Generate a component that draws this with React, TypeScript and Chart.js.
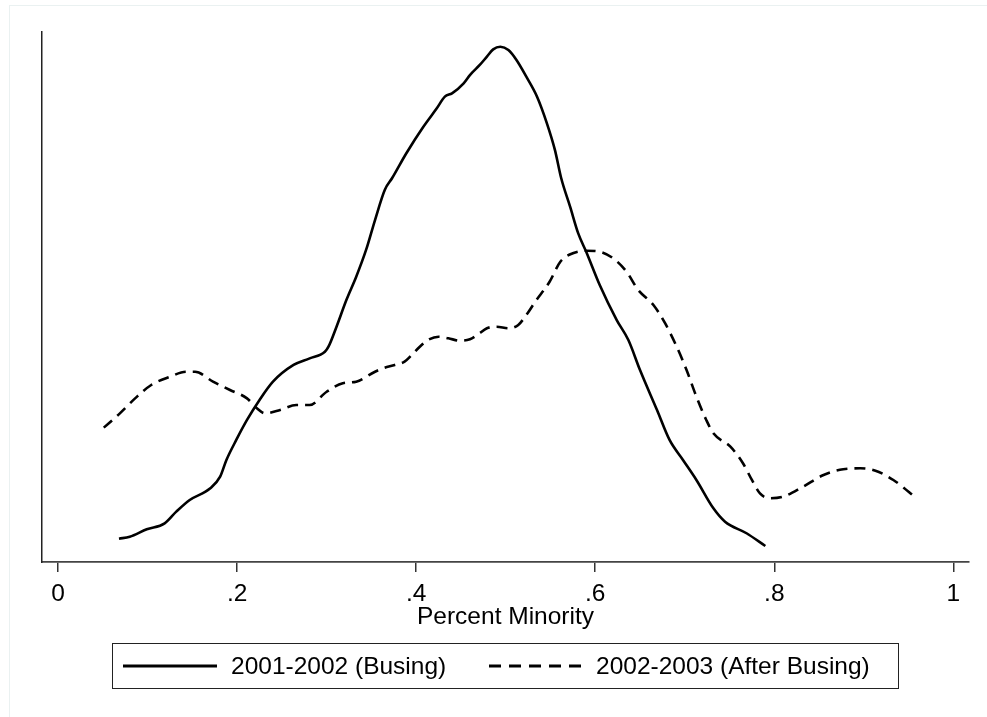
import React, { useEffect, useRef } from "react";
import { Chart, registerables } from "chart.js";

Chart.register(...registerables);

// Kernel density, 2001-2002 (Busing)
const busingX = [
  0.068, 0.080, 0.099, 0.119, 0.132, 0.147, 0.170, 0.181, 0.188, 0.199,
  0.211, 0.225, 0.240, 0.263, 0.281, 0.298, 0.302, 0.311, 0.322, 0.333,
  0.344, 0.354, 0.365, 0.373, 0.389, 0.408, 0.423, 0.432, 0.440, 0.453,
  0.460, 0.471, 0.479, 0.486, 0.494, 0.503, 0.512, 0.523, 0.535, 0.546,
  0.555, 0.562, 0.572, 0.581, 0.590, 0.605, 0.624, 0.637, 0.650, 0.669,
  0.683, 0.698, 0.713, 0.732, 0.745, 0.769, 0.790,
];
const busingY = [
  0.176, 0.191, 0.247, 0.292, 0.380, 0.468, 0.556, 0.644, 0.770, 0.921,
  1.072, 1.223, 1.361, 1.487, 1.537, 1.587, 1.625, 1.776, 1.977, 2.153,
  2.355, 2.581, 2.810, 2.896, 3.085, 3.285, 3.424, 3.512, 3.537, 3.613,
  3.675, 3.751, 3.814, 3.869, 3.889, 3.864, 3.789, 3.663, 3.512, 3.311,
  3.109, 2.896, 2.680, 2.480, 2.340, 2.091, 1.826, 1.675, 1.449, 1.147,
  0.921, 0.770, 0.619, 0.405, 0.304, 0.217, 0.121,
];

// Kernel density, 2002-2003 (After Busing)
const afterX = [
  0.051, 0.069, 0.086, 0.104, 0.125, 0.143, 0.153, 0.173, 0.192, 0.211,
  0.222, 0.231, 0.248, 0.266, 0.281, 0.300, 0.318, 0.333, 0.354, 0.363,
  0.376, 0.387, 0.395, 0.404, 0.413, 0.425, 0.436, 0.449, 0.460, 0.469,
  0.479, 0.490, 0.503, 0.514, 0.523, 0.533, 0.549, 0.561, 0.575, 0.590,
  0.605, 0.620, 0.635, 0.648, 0.665, 0.678, 0.691, 0.702, 0.713, 0.724,
  0.732, 0.751, 0.765, 0.775, 0.784, 0.795, 0.810, 0.832, 0.855, 0.877,
  0.896, 0.913, 0.933, 0.959,
];
const afterY = [
  1.014, 1.122, 1.235, 1.336, 1.398, 1.436, 1.436, 1.361, 1.298, 1.235,
  1.160, 1.122, 1.147, 1.185, 1.185, 1.285, 1.349, 1.361, 1.436, 1.462,
  1.487, 1.512, 1.562, 1.625, 1.675, 1.700, 1.688, 1.670, 1.681, 1.718,
  1.764, 1.776, 1.764, 1.789, 1.864, 1.965, 2.115, 2.266, 2.330, 2.349,
  2.342, 2.292, 2.191, 2.053, 1.940, 1.802, 1.625, 1.449, 1.248, 1.072,
  0.971, 0.870, 0.745, 0.619, 0.518, 0.481, 0.493, 0.568, 0.657, 0.700,
  0.707, 0.689, 0.619, 0.481,
];

const xTickValues = [0, 0.2, 0.4, 0.6, 0.8, 1];
const xTickLabels = ["0", ".2", ".4", ".6", ".8", "1"];
const seriesNames = ["2001-2002 (Busing)", "2002-2003 (After Busing)"];
const xTitle = "Percent Minority";

const FONT = "'Liberation Sans', Arial, Helvetica, sans-serif";
const FS = 24.5;

export default function App() {
  const canvasRef = useRef<HTMLCanvasElement | null>(null);

  useEffect(() => {
    const canvas = canvasRef.current;
    if (!canvas) return;
    const chart = new Chart(canvas, {
      type: "line",
      data: {
        datasets: [
          {
            label: seriesNames[0],
            data: busingX.map((x, i) => ({ x, y: busingY[i] })),
            borderColor: "#000",
            borderWidth: 2.6,
            pointRadius: 0,
            cubicInterpolationMode: "monotone",
            fill: false,
          },
          {
            label: seriesNames[1],
            data: afterX.map((x, i) => ({ x, y: afterY[i] })),
            borderColor: "#000",
            borderWidth: 2.6,
            borderDash: [11, 7],
            pointRadius: 0,
            cubicInterpolationMode: "monotone",
            fill: false,
          },
        ],
      },
      options: {
        animation: false,
        responsive: false,
        maintainAspectRatio: false,
        devicePixelRatio: 1,
        layout: { padding: { left: 42, top: 32, right: 18, bottom: 75 } },
        plugins: {
          legend: { display: false },
          tooltip: { enabled: false },
          title: { display: false },
        },
        scales: {
          x: {
            type: "linear",
            min: -0.018,
            max: 1.0175,
            afterBuildTicks: (scale: any) => {
              scale.ticks = xTickValues.map((v) => ({ value: v }));
            },
            afterFit: (scale: any) => {
              scale.height = 80;
            },
            grid: {
              display: true,
              drawOnChartArea: false,
              drawTicks: true,
              tickLength: 10,
              color: "#333",
              lineWidth: 1.5,
            },
            border: { display: true, color: "#444", width: 1.8 },
            ticks: {
              color: "#000",
              font: { family: FONT, size: FS },
              padding: 8,
              maxRotation: 0,
              autoSkip: false,
              callback: (value: any) => {
                const idx = xTickValues.findIndex((v) => Math.abs(v - Number(value)) < 1e-9);
                return idx >= 0 ? xTickLabels[idx] : "";
              },
            },
            title: {
              display: true,
              text: xTitle,
              color: "#000",
              font: { family: FONT, size: FS },
              padding: { top: 0, bottom: 10 },
            },
          },
          y: {
            type: "linear",
            min: 0,
            max: 4,
            grid: { display: false, drawTicks: false },
            border: { display: true, color: "#222", width: 1.5 },
            ticks: { display: false },
          },
        },
      },
    });
    return () => chart.destroy();
  }, []);

  const textStyle: React.CSSProperties = {
    position: "absolute",
    top: 651,
    fontFamily: FONT,
    fontSize: FS,
    lineHeight: "30px",
    color: "#000",
    whiteSpace: "nowrap",
  };

  return (
    <div
      style={{
        position: "fixed",
        left: 0,
        top: 0,
        width: 987,
        height: 717,
        background: "#fff",
        overflow: "hidden",
      }}
    >
      <div
        style={{
          position: "absolute",
          left: 9,
          top: 5,
          right: 0,
          bottom: 0,
          borderTop: "1px solid #eaf1f1",
          borderLeft: "1px solid #eaf1f1",
        }}
      />
      <canvas
        ref={canvasRef}
        width={987}
        height={717}
        style={{ position: "absolute", left: 0, top: 0, width: 987, height: 717 }}
      />
      <div
        style={{
          position: "absolute",
          left: 112,
          top: 643,
          width: 787,
          height: 46,
          boxSizing: "border-box",
          border: "1.5px solid #222",
        }}
      />
      <svg
        width={94}
        height={8}
        style={{ position: "absolute", left: 123, top: 662 }}
      >
        <line x1={0} y1={4} x2={94} y2={4} stroke="#000" strokeWidth={3} />
      </svg>
      <span style={{ ...textStyle, left: 231 }}>{seriesNames[0]}</span>
      <svg
        width={92}
        height={8}
        style={{ position: "absolute", left: 489, top: 662 }}
      >
        <line
          x1={0}
          y1={4}
          x2={92}
          y2={4}
          stroke="#000"
          strokeWidth={3}
          strokeDasharray="12 8"
        />
      </svg>
      <span style={{ ...textStyle, left: 596 }}>{seriesNames[1]}</span>
    </div>
  );
}
